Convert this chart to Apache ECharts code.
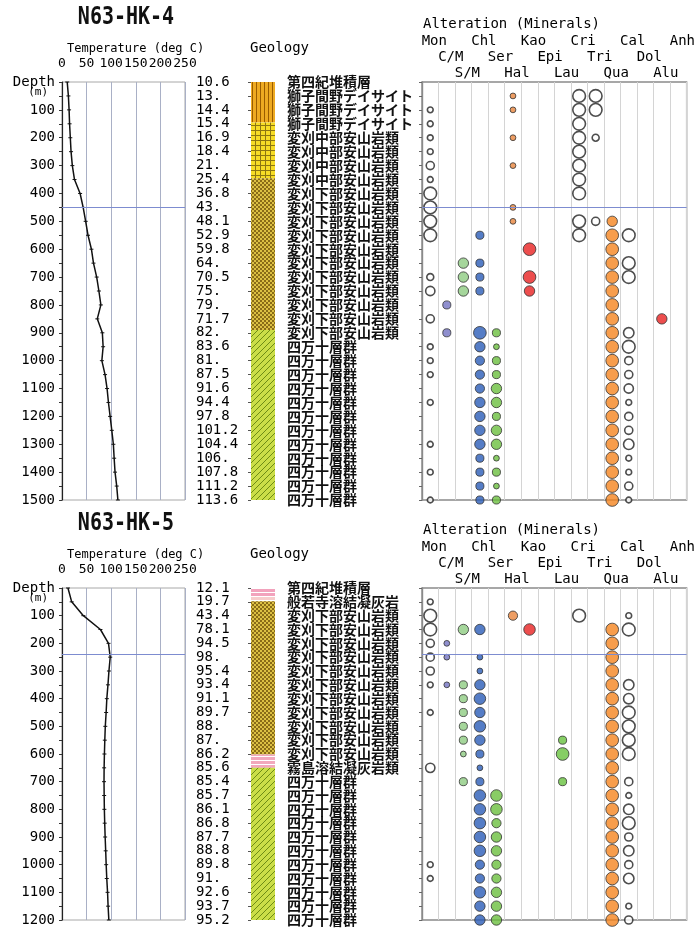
<!DOCTYPE html>
<html><head><meta charset="utf-8">
<script src="https://cdn.jsdelivr.net/npm/echarts@6.0.0/dist/echarts.min.js"></script>
<style>html,body{margin:0;padding:0;background:#fff}#c{width:698px;height:931px}</style>
</head><body><div id="c"></div>
<script>
const MONO = '"DejaVu Sans Mono", monospace';
const CJK = '"Noto Sans CJK JP", sans-serif';

// ---------- data ----------
const tempTicks = [0, 50, 100, 150, 200, 250];
const minerals = ['Mon','C/M','S/M','Chl','Ser','Hal','Kao','Epi','Lau','Cri','Tri','Qua','Cal','Dol','Alu','Anh'];

// N63-HK-4
const hk4Depth = [0,50,100,150,200,250,300,350,400,450,500,550,600,650,700,750,800,850,900,950,1000,1050,1100,1150,1200,1250,1300,1350,1400,1450,1500];
const hk4Temp = [10.6,13.0,14.4,15.4,16.9,18.4,21.0,25.4,36.8,43.0,48.1,52.9,59.8,64.0,70.5,75.0,79.0,71.7,82.0,83.6,81.0,87.5,91.6,94.4,97.8,101.2,104.4,106.0,107.8,111.2,113.6];
const hk4GeoLabel = ['第四紀堆積層','獅子間野デイサイト','獅子間野デイサイト','獅子間野デイサイト',
  '変刈中部安山岩類','変刈中部安山岩類','変刈中部安山岩類','変刈中部安山岩類',
  '変刈下部安山岩類','変刈下部安山岩類','変刈下部安山岩類','変刈下部安山岩類','変刈下部安山岩類','変刈下部安山岩類',
  '変刈下部安山岩類','変刈下部安山岩類','変刈下部安山岩類','変刈下部安山岩類','変刈下部安山岩類',
  '四万十層群','四万十層群','四万十層群','四万十層群','四万十層群','四万十層群',
  '四万十層群','四万十層群','四万十層群','四万十層群','四万十層群','四万十層群'];
const hk4Units = [['獅子間野デイサイト',0,145],['変刈中部安山岩類',145,345],['変刈下部安山岩類',345,890],['四万十層群',890,1500]];
const hk4LineDepth = 450;

const hk4Mon = [[100,1],[150,1],[200,1],[250,1],[300,2],[350,1],[400,4],[450,4],[500,4],[550,4],[700,1.5],[750,2.5],[850,2],[950,1],[1000,1],[1050,1],[1150,1],[1300,1],[1400,1],[1500,1]];
const hk4CM = [[800,2],[900,2]];
const hk4SM = [[650,3],[700,3],[750,3]];
const hk4Chl = [[550,2],[650,2],[700,2],[750,2],[900,4],[950,3],[1000,2.5],[1050,2.5],[1100,2.5],[1150,3],[1200,3],[1250,3],[1300,3],[1350,2],[1400,2],[1450,2],[1500,2]];
const hk4Ser = [[900,2],[950,1],[1000,2],[1050,2],[1100,3],[1150,3],[1200,2],[1250,3],[1300,3],[1350,1],[1400,2],[1450,1],[1500,2]];
const hk4Hal = [[50,1],[100,1],[200,1],[300,1],[450,1],[500,1]];
const hk4Kao = [[600,4],[700,4],[750,3]];
const hk4Cri = [[50,4],[100,4],[150,4],[200,4],[250,4],[300,4],[350,4],[400,4],[500,4],[550,4]];
const hk4Tri = [[50,4],[100,4],[200,1.5],[500,2]];
const hk4Qua = [[500,3],[550,4],[600,4],[650,4],[700,4],[750,4],[800,4],[850,4],[900,4],[950,4],[1000,4],[1050,4],[1100,4],[1150,4],[1200,4],[1250,4],[1300,4],[1350,4],[1400,4],[1450,4],[1500,4]];
const hk4Cal = [[550,4],[650,4],[700,4],[900,3],[950,4],[1000,2],[1050,2],[1100,2.5],[1150,1],[1200,2],[1250,2],[1300,3],[1350,1],[1400,1],[1450,2],[1500,1]];
const hk4Alu = [[850,3]];

// N63-HK-5
const hk5Depth = [0,50,100,150,200,250,300,350,400,450,500,550,600,650,700,750,800,850,900,950,1000,1050,1100,1150,1200];
const hk5Temp = [12.1,19.7,43.4,78.1,94.5,98.0,95.4,93.4,91.1,89.7,88.0,87.0,86.2,85.6,85.4,85.7,86.1,86.8,87.7,88.8,89.8,91.0,92.6,93.7,95.2];
const hk5GeoLabel = ['第四紀堆積層','般若寺溶結凝灰岩',
  '変刈下部安山岩類','変刈下部安山岩類','変刈下部安山岩類','変刈下部安山岩類','変刈下部安山岩類','変刈下部安山岩類',
  '変刈下部安山岩類','変刈下部安山岩類','変刈下部安山岩類','変刈下部安山岩類','変刈下部安山岩類',
  '霧島溶結凝灰岩類',
  '四万十層群','四万十層群','四万十層群','四万十層群','四万十層群','四万十層群',
  '四万十層群','四万十層群','四万十層群','四万十層群','四万十層群'];
const hk5Units = [['第四紀堆積層',0,30],['般若寺溶結凝灰岩',30,48],['変刈下部安山岩類',48,602],['霧島溶結凝灰岩類',602,650],['四万十層群',650,1200]];
const hk5LineDepth = 240;

const hk5Mon = [[50,1],[100,4],[150,4],[200,2],[250,2],[300,2],[350,1],[450,1],[650,2.5],[1000,1],[1050,1]];
const hk5CM = [[200,1],[250,1],[350,1]];
const hk5SM = [[150,3],[350,2],[400,2],[450,2],[500,2],[550,2],[600,1],[700,2]];
const hk5Chl = [[150,3],[250,1],[300,1],[350,3],[400,3.5],[450,3],[500,3.5],[550,3],[600,2],[650,1],[700,2],[750,3.5],[800,3.5],[850,3.5],[900,3.5],[950,3.5],[1000,2.5],[1050,2.5],[1100,3.5],[1150,3],[1200,3]];
const hk5Ser = [[750,3.5],[800,3.5],[850,2.5],[900,3],[950,3],[1000,2.5],[1050,2.5],[1100,3],[1150,3],[1200,3]];
const hk5Hal = [[100,2.5]];
const hk5Kao = [[150,3.5]];
const hk5Lau = [[550,2],[600,4],[700,2]];
const hk5Cri = [[100,4]];
const hk5Qua = [[150,4],[200,4],[250,4],[300,4],[350,4],[400,4],[450,4],[500,4],[550,4],[600,4],[650,4],[700,4],[750,4],[800,4],[850,4],[900,4],[950,4],[1000,4],[1050,4],[1100,4],[1150,4],[1200,4]];
const hk5Cal = [[100,1],[150,4],[350,3],[400,3],[450,4],[500,4],[550,4],[600,4],[700,2],[750,1],[800,3],[850,4],[900,2],[950,3],[1000,2],[1050,3],[1150,1],[1200,2]];

// ---------- styles ----------
function pat(w, h, bg, draw) {
  const c = document.createElement('canvas'); c.width = w; c.height = h;
  const g = c.getContext('2d'); g.fillStyle = bg; g.fillRect(0, 0, w, h); draw(g);
  return { image: c, repeat: 'repeat' };
}
const PAT = {
  '獅子間野デイサイト': pat(4, 4, '#eeaa22', g => { g.fillStyle = '#9a5c00'; g.fillRect(0, 0, 1, 4); }),
  '変刈中部安山岩類': pat(5, 5, '#f6dc26', g => { g.fillStyle = '#8c7612'; g.fillRect(0, 0, 5, 1); g.fillRect(0, 0, 1, 5); }),
  '変刈下部安山岩類': pat(4, 4, '#dcc044', g => { g.fillStyle = '#8a6c18'; g.fillRect(0, 0, 2, 2); g.fillRect(2, 2, 2, 2); }),
  '四万十層群': pat(6, 6, '#cbde48', g => { g.strokeStyle = '#6e8c14'; g.lineWidth = 1; g.beginPath();
      g.moveTo(0, 6); g.lineTo(6, 0); g.moveTo(-1, 1); g.lineTo(1, -1); g.moveTo(5, 7); g.lineTo(7, 5); g.stroke(); }),
  '第四紀堆積層': pat(4, 4, '#f2a2bc', g => { g.fillStyle = '#ffffff'; g.fillRect(0, 0, 4, 1); }),
  '般若寺溶結凝灰岩': pat(4, 4, '#f7cccc', g => { g.fillStyle = '#ffffff'; g.fillRect(0, 0, 4, 1); }),
  '霧島溶結凝灰岩類': pat(4, 4, '#f2a8bc', g => { g.fillStyle = '#ffffff'; g.fillRect(0, 0, 4, 1); })
};
const OPEN = { color: '#ffffff', borderColor: '#222', borderWidth: 1.6 };
function fill(c) { return { color: c, borderColor: '#333', borderWidth: 1 }; }
const MSTYLE = {
  'Mon': OPEN, 'Cri': OPEN, 'Tri': OPEN, 'Cal': OPEN, 'Dol': OPEN, 'Anh': OPEN,
  'C/M': fill('#7373c2'), 'S/M': fill('#8fcc82'), 'Chl': fill('#2b5db8'), 'Ser': fill('#6cbf3e'),
  'Hal': fill('#e8843c'), 'Kao': fill('#e82222'), 'Epi': fill('#9ac040'), 'Lau': fill('#68c23e'),
  'Qua': fill('#f5841f'), 'Alu': fill('#e82222')
};
const sizeOf = lv => 3.5 + 2.3 * lv;
const fmtTemp = v => (v === undefined ? '' : (Number.isInteger(v) ? v + '.' : v.toFixed(1)));

const panels = [
  { title: 'N63-HK-4', top: 82, height: 418, maxDepth: 1500, depth: hk4Depth, temp: hk4Temp, geo: hk4GeoLabel, units: hk4Units, line: hk4LineDepth,
    alt: { 'Mon': hk4Mon, 'C/M': hk4CM, 'S/M': hk4SM, 'Chl': hk4Chl, 'Ser': hk4Ser, 'Hal': hk4Hal, 'Kao': hk4Kao, 'Cri': hk4Cri, 'Tri': hk4Tri, 'Qua': hk4Qua, 'Cal': hk4Cal, 'Alu': hk4Alu } },
  { title: 'N63-HK-5', top: 588, height: 332, maxDepth: 1200, depth: hk5Depth, temp: hk5Temp, geo: hk5GeoLabel, units: hk5Units, line: hk5LineDepth,
    alt: { 'Mon': hk5Mon, 'C/M': hk5CM, 'S/M': hk5SM, 'Chl': hk5Chl, 'Ser': hk5Ser, 'Hal': hk5Hal, 'Kao': hk5Kao, 'Lau': hk5Lau, 'Cri': hk5Cri, 'Qua': hk5Qua, 'Cal': hk5Cal } }
];

const TEMP_L = 62, TEMP_W = 123, GEO_L = 251, GEO_W = 24, ALT_L = 422, ALT_W = 265;
const grid = [], xAxis = [], yAxis = [], series = [], graphic = [];
const blueLine = { color: '#7d8cd0', width: 1, type: 'solid' };

panels.forEach(p => {
  const g0 = grid.length, xi = xAxis.length, yi = yAxis.length;
  grid.push({ left: TEMP_L, top: p.top, width: TEMP_W, height: p.height, show: true, borderColor: '#a8a8a8', borderWidth: 1 });
  grid.push({ left: GEO_L, top: p.top, width: GEO_W, height: p.height, show: false });
  grid.push({ left: ALT_L, top: p.top, width: ALT_W, height: p.height, show: true, borderColor: '#8a8a8a', borderWidth: 1.4 });

  xAxis.push({ type: 'value', gridIndex: g0, position: 'top', min: tempTicks[0], max: tempTicks[tempTicks.length - 1], interval: tempTicks[1] - tempTicks[0],
    axisLine: { show: false }, axisTick: { show: false },
    splitLine: { show: true, lineStyle: { color: '#a9b0c6', width: 1 } },
    axisLabel: { fontFamily: MONO, fontSize: 13, color: '#000', margin: 12 } });
  xAxis.push({ type: 'value', gridIndex: g0 + 1, min: 0, max: 1, show: false });
  [32, 16, 0].forEach((off, r) => {
    xAxis.push({ type: 'category', gridIndex: g0 + 2, data: minerals, position: 'top', offset: off,
      axisLine: { show: false }, axisTick: { show: false },
      splitLine: { show: r === 2, lineStyle: { color: '#d4d4d4', width: 1 } },
      axisLabel: { interval: 0, margin: 2, fontFamily: MONO, fontSize: 14, color: '#000', padding: [0, 0, 0, 8],
        formatter: (v, i) => (i % 3 === r ? v : '') } });
  });

  yAxis.push({ type: 'value', gridIndex: g0, inverse: true, min: 0, max: p.maxDepth, interval: 100,
    axisLine: { show: true, lineStyle: { color: '#222', width: 1.2 } },
    axisTick: { show: true, length: 3, lineStyle: { color: '#333' } },
    minorTick: { show: true, splitNumber: 2, length: 3, lineStyle: { color: '#333' } },
    splitLine: { show: false },
    axisLabel: { margin: 7, fontFamily: MONO, fontSize: 14, color: '#000',
      formatter: v => (v === 0 ? '{s| }\n{a|Depth}\n{b|(m)}' : String(v)),
      rich: { s: { fontSize: 8, lineHeight: 9 }, a: { fontFamily: MONO, fontSize: 14, lineHeight: 12, color: '#000' },
              b: { fontFamily: MONO, fontSize: 11, lineHeight: 8, color: '#000', padding: [0, 7, 0, 0] } } } });
  yAxis.push({ type: 'value', gridIndex: g0 + 1, inverse: true, min: 0, max: p.maxDepth, interval: 50,
    axisLine: { show: false }, axisTick: { show: true, length: 3, lineStyle: { color: '#555' } }, splitLine: { show: false },
    axisLabel: { align: 'left', margin: 55, fontFamily: MONO, fontSize: 14, color: '#000',
      formatter: v => fmtTemp(p.temp[p.depth.indexOf(v)]) } });
  yAxis.push({ type: 'value', gridIndex: g0 + 1, position: 'right', inverse: true, min: 0, max: p.maxDepth, interval: 50,
    axisLine: { show: false }, axisTick: { show: false }, splitLine: { show: false },
    axisLabel: { margin: 12, fontFamily: CJK, fontSize: 14, fontWeight: 'bold', color: '#111',
      formatter: v => p.geo[p.depth.indexOf(v)] || '' } });
  yAxis.push({ type: 'value', gridIndex: g0 + 2, inverse: true, min: 0, max: p.maxDepth, interval: 50,
    axisLine: { show: true, lineStyle: { color: '#8a8a8a', width: 1.4 } },
    axisTick: { show: true, length: 3, lineStyle: { color: '#666' } },
    axisLabel: { show: false }, splitLine: { show: false } });

  series.push({ type: 'line', xAxisIndex: xi, yAxisIndex: yi, silent: true,
    data: p.depth.map((d, i) => [p.temp[i], d]),
    symbol: 'rect', symbolSize: [4, 1], itemStyle: { color: '#111' },
    lineStyle: { color: '#111', width: 1.5 },
    markLine: { silent: true, symbol: 'none', label: { show: false }, lineStyle: blueLine, data: [{ yAxis: p.line }] } });

  series.push({ type: 'custom', xAxisIndex: xi + 1, yAxisIndex: yi + 1, silent: true,
    data: p.units.map(u => [0.5, u[1], u[2]]), encode: { x: 0, y: [1, 2] },
    renderItem: (params, api) => {
      const a = api.coord([0, api.value(1)]), b = api.coord([1, api.value(2)]);
      return { type: 'rect', shape: { x: a[0], y: a[1], width: b[0] - a[0], height: b[1] - a[1] },
        style: { fill: PAT[p.units[params.dataIndex][0]] } };
    } });

  let first = true;
  minerals.forEach(m => {
    const arr = p.alt[m]; if (!arr || !arr.length) return;
    const s = { type: 'scatter', xAxisIndex: xi + 4, yAxisIndex: yi + 3, silent: true, z: 3,
      data: arr.map(([d, lv]) => [m, d, lv]), symbol: 'circle', symbolSize: v => sizeOf(v[2]), itemStyle: MSTYLE[m] };
    if (first) { s.markLine = { silent: true, symbol: 'none', label: { show: false }, lineStyle: blueLine, data: [{ yAxis: p.line }], z: 4 }; first = false; }
    series.push(s);
  });

  graphic.push({ type: 'text', x: 126, y: p.top - 64, scaleY: 1.22, style: { text: p.title, fontFamily: MONO, fontSize: 20, fontWeight: 'bold', fill: '#111', align: 'center', verticalAlign: 'middle' } });
  graphic.push({ type: 'text', x: 67, y: p.top - 33, style: { text: 'Temperature (deg C)', fontFamily: MONO, fontSize: 12, fill: '#000', align: 'left', verticalAlign: 'middle' } });
  graphic.push({ type: 'text', x: 250, y: p.top - 34, style: { text: 'Geology', fontFamily: MONO, fontSize: 14, fill: '#000', align: 'left', verticalAlign: 'middle' } });
  graphic.push({ type: 'text', x: 423, y: p.top - 58, style: { text: 'Alteration (Minerals)', fontFamily: MONO, fontSize: 14, fill: '#000', align: 'left', verticalAlign: 'middle' } });
});

const chart = echarts.init(document.getElementById('c'));
chart.setOption({ animation: false, backgroundColor: '#fff', grid, xAxis, yAxis, series, graphic });
</script>
</body></html>
